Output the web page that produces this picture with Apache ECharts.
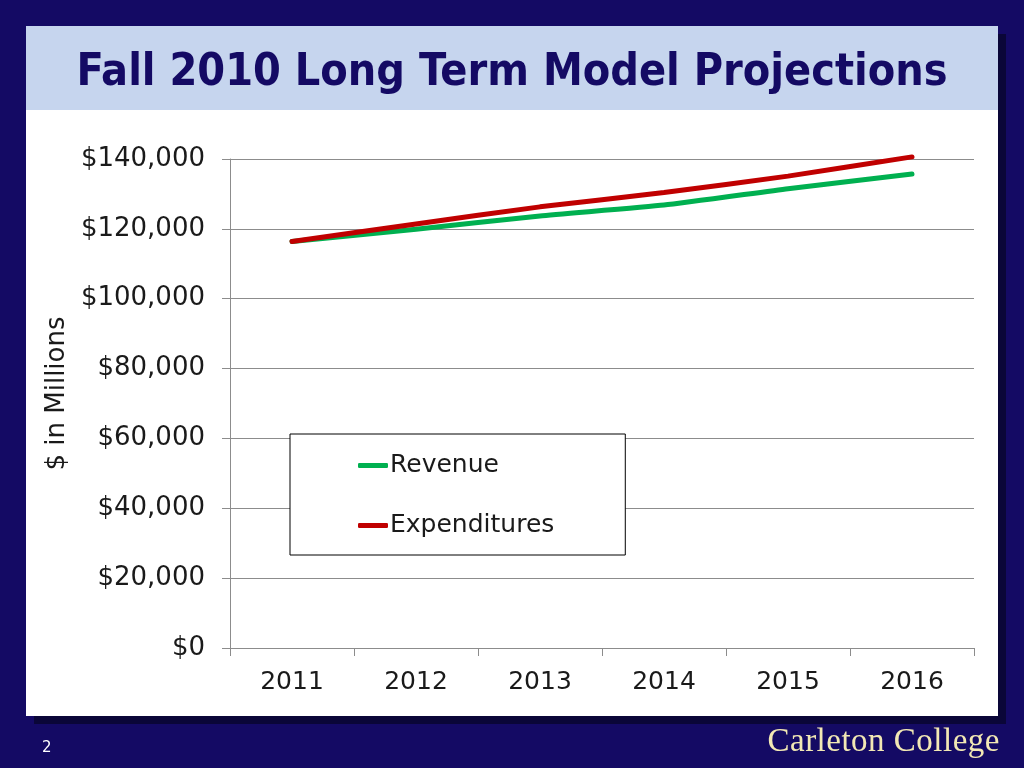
<!DOCTYPE html>
<html>
<head>
<meta charset="utf-8">
<script src="https://cdn.jsdelivr.net/npm/echarts@6/dist/echarts.min.js"></script>
<style>
  html, body { margin: 0; padding: 0; background: #140a64; }
  #slide { position: relative; width: 1024px; height: 768px; overflow: hidden; background: #140a64; }
  #shadow { position: absolute; left: 34px; top: 34px; width: 972px; height: 690px; background: #0a0638; }
  #panel { position: absolute; left: 26px; top: 26px; width: 972px; height: 690px; background: #fff; }
  #band { position: absolute; left: 26px; top: 26px; width: 972px; height: 84px; background: #c6d5ee; }
  #chart { position: absolute; left: 0; top: 0; width: 1024px; height: 768px; }
  #page { position: absolute; left: 42px; top: 738px; color: #fff; font: 15px "DejaVu Sans", sans-serif; }
  #college { position: absolute; right: 24px; top: 722px; color: #f2e8b4; font: 33px "Liberation Serif", "DejaVu Serif", serif; letter-spacing: 0.5px; }
</style>
</head>
<body>
<div id="slide">
  <div id="shadow"></div>
  <div id="panel"></div>
  <div id="band"></div>
  <div id="chart"></div>
  <div id="page">2</div>
  <div id="college">Carleton College</div>
</div>
<script>
// fiscal years on the x axis
const years = ['2011', '2012', '2013', '2014', '2015', '2016'];
// $ in millions
const revenue = [116400, 119900, 123700, 126800, 131500, 135700];
const expenditures = [116400, 121400, 126300, 130400, 135100, 140600];

const chart = echarts.init(document.getElementById('chart'));

chart.setOption({
    backgroundColor: 'transparent',
    animation: false,

    textStyle: {
        fontFamily: '"DejaVu Sans", Verdana, sans-serif'
    },

    title: {
        text: 'Fall 2010 Long Term Model Projections',
        left: 'center',
        top: 46,
        textStyle: {
            color: '#140a64',
            fontSize: 44.5,
            fontWeight: 'bold',
            fontFamily: '"DejaVu Sans Condensed", "DejaVu Sans", sans-serif'
        }
    },

    grid: {
        left: 230,
        right: 50,
        top: 159,
        bottom: 120
    },

    // boxed legend inside the plot, like the slide
    legend: {
        orient: 'vertical',
        left: 290,
        top: 434,
        padding: [19, 71, 17, 68],
        itemGap: 35,
        itemWidth: 30,
        itemHeight: 5,
        icon: 'roundRect',
        backgroundColor: '#fff',
        borderColor: '#000',
        borderWidth: 1,
        textStyle: {
            fontSize: 25,
            color: '#1a1a1a',
            padding: [0, 0, 0, -3]
        },
        data: ['Revenue', 'Expenditures']
    },

    xAxis: {
        type: 'category',
        data: years,
        boundaryGap: true,
        axisLine: { lineStyle: { color: '#8c8c8c', width: 1 } },
        axisTick: { show: true, length: 8, lineStyle: { color: '#8c8c8c' } },
        axisLabel: { fontSize: 25, color: '#1a1a1a', margin: 22 }
    },

    yAxis: {
        type: 'value',
        min: 0,
        max: 140000,
        interval: 20000,
        name: '$ in Millions',
        nameLocation: 'middle',
        nameRotate: 90,
        nameGap: 150,
        nameTextStyle: { fontSize: 26, color: '#1a1a1a', padding: [0, 0, 0, 20] },
        axisLine: { show: true, lineStyle: { color: '#8c8c8c', width: 1 } },
        axisTick: { show: true, length: 8, lineStyle: { color: '#8c8c8c' } },
        axisLabel: {
            fontSize: 26,
            color: '#1a1a1a',
            margin: 25,
            padding: [5, 0, 0, 0],
            formatter: function (v) {
                return '$' + v.toLocaleString('en-US');
            }
        },
        splitLine: { lineStyle: { color: '#8c8c8c', width: 1 } }
    },

    series: [
        {
            name: 'Revenue',
            type: 'line',
            data: revenue,
            smooth: 0.15,
            clip: false,
            showSymbol: false,
            color: '#00b050',
            lineStyle: { width: 5, cap: 'round', color: '#00b050' }
        },
        {
            name: 'Expenditures',
            type: 'line',
            data: expenditures,
            smooth: 0.15,
            clip: false,
            showSymbol: false,
            color: '#c00000',
            lineStyle: { width: 5, cap: 'round', color: '#c00000' }
        }
    ]
});
</script>
</body>
</html>
